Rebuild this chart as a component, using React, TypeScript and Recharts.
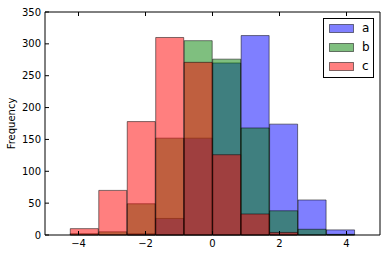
import React from 'react';
import { BarChart, Bar, XAxis, YAxis, Legend } from 'recharts';

// Histogram bins (centers of 10 equal-width bins shared by all columns)
const binCenters = [-3.82, -2.97, -2.12, -1.27, -0.42, 0.43, 1.28, 2.13, 2.98, 3.83];
const seriesA = [0, 0, 2, 26, 152, 270, 313, 174, 55, 8];
const seriesB = [2, 5, 49, 152, 305, 276, 168, 38, 9, 1];
const seriesC = [10, 70, 178, 310, 271, 126, 33, 4, 0, 0];
const seriesNames = ['a', 'b', 'c'];
const seriesColors = ['#0000ff', '#008000', '#ff0000'];
const xTicks = [-4, -2, 0, 2, 4];
const yTicks = [0, 50, 100, 150, 200, 250, 300, 350];
const yLabel = 'Frequency';

const data = binCenters.map((x, i) => ({ x, a: seriesA[i], b: seriesB[i], c: seriesC[i] }));

const FONT = 'DejaVu Sans, sans-serif';
const fmt = (v: number) => String(v).replace('-', '\u2212');

// tickSize=1, tickMargin=4 -> label y is 5px below the axis line
const BottomTick = (props: any) => {
  const { x, y, payload } = props;
  return (
    <g>
      <line x1={x} y1={y - 5} x2={x} y2={y - 9} stroke="#000" />
      <text x={x} y={y} dy="0.71em" textAnchor="middle" fontSize={10} fontFamily={FONT} fill="#000">
        {fmt(payload.value)}
      </text>
    </g>
  );
};

// tickSize=1, tickMargin=3 -> label x is 4px left of the axis line
const LeftTick = (props: any) => {
  const { x, y, payload } = props;
  return (
    <g>
      <line x1={x + 4} y1={y} x2={x + 8} y2={y} stroke="#000" />
      <text x={x} y={y} dy="0.355em" textAnchor="end" fontSize={10} fontFamily={FONT} fill="#000">
        {fmt(payload.value)}
      </text>
    </g>
  );
};

// tickSize=1, tickMargin=1 -> y is 2px above the axis line
const TopTick = (props: any) => {
  const { x, y } = props;
  return <line x1={x} y1={y + 2} x2={x} y2={y + 6} stroke="#000" />;
};

// tickSize=1, tickMargin=1 -> x is 2px right of the axis line
const RightTick = (props: any) => {
  const { x, y } = props;
  return <line x1={x - 2} y1={y} x2={x - 6} y2={y} stroke="#000" />;
};

const YLabel = (props: any) => {
  const vb = props.viewBox || { x: 0, y: 0, width: 0, height: 0 };
  const cx = vb.x + 11;
  const cy = vb.y + vb.height / 2;
  return (
    <text
      x={cx}
      y={cy}
      transform={`rotate(-90, ${cx}, ${cy})`}
      textAnchor="middle"
      dominantBaseline="central"
      fontSize={10}
      fontFamily={FONT}
      fill="#000"
    >
      {yLabel}
    </text>
  );
};

const LegendBox = () => (
  <div
    style={{
      width: 49,
      height: 58,
      border: '1px solid #000',
      background: '#fff',
      boxSizing: 'content-box',
      position: 'relative',
      fontFamily: FONT,
      fontSize: 12,
    }}
  >
    {seriesNames.map((n, i) => (
      <div key={n} style={{ position: 'absolute', left: 0, top: 6 + i * 19, height: 8, width: 49 }}>
        <svg width={26} height={10} style={{ position: 'absolute', left: 5, top: -1 }}>
          <rect x={0.5} y={0.5} width={24} height={8} fill={seriesColors[i]} fillOpacity={0.5} stroke="#000" strokeOpacity={0.5} />
        </svg>
        <span style={{ position: 'absolute', left: 38, top: -4, lineHeight: '14px', color: '#000' }}>{n}</span>
      </div>
    ))}
  </div>
);

export default function App() {
  return (
    <div style={{ position: 'absolute', left: 0, top: 0, width: 387, height: 256, background: '#fff' }}>
      <BarChart
        width={387}
        height={256}
        data={data}
        margin={{ top: 11, right: 6, bottom: 0, left: 0 }}
        barCategoryGap={0}
        barGap={0}
      >
        <XAxis
          xAxisId="bottom"
          dataKey="x"
          type="number"
          domain={[-5, 5]}
          ticks={xTicks}
          height={21}
          tickSize={1}
          tickMargin={4}
          tickLine={false}
          axisLine={{ stroke: '#000' }}
          tick={<BottomTick />}
        />
        <XAxis
          xAxisId="top"
          orientation="top"
          dataKey="x"
          type="number"
          domain={[-5, 5]}
          ticks={xTicks}
          height={1}
          tickSize={1}
          tickMargin={1}
          tickLine={false}
          tick={<TopTick />}
          axisLine={{ stroke: '#000' }}
        />
        <XAxis xAxisId="a" dataKey="x" type="number" domain={[-5, 5]} height={0} hide />
        <XAxis xAxisId="b" dataKey="x" type="number" domain={[-5, 5]} height={0} hide />
        <XAxis xAxisId="c" dataKey="x" type="number" domain={[-5, 5]} height={0} hide />
        <YAxis
          domain={[0, 350]}
          ticks={yTicks}
          width={45}
          tickSize={1}
          tickMargin={3}
          tickLine={false}
          axisLine={{ stroke: '#000' }}
          tick={<LeftTick />}
          label={<YLabel />}
        />
        <YAxis
          yAxisId="right"
          orientation="right"
          domain={[0, 350]}
          ticks={yTicks}
          width={1}
          tickSize={1}
          tickMargin={1}
          tickLine={false}
          tick={<RightTick />}
          axisLine={{ stroke: '#000' }}
        />
        <Bar xAxisId="a" dataKey="a" name="a" fill={seriesColors[0]} fillOpacity={0.5} stroke="#000" strokeOpacity={0.5} isAnimationActive={false} />
        <Bar xAxisId="b" dataKey="b" name="b" fill={seriesColors[1]} fillOpacity={0.5} stroke="#000" strokeOpacity={0.5} isAnimationActive={false} />
        <Bar xAxisId="c" dataKey="c" name="c" fill={seriesColors[2]} fillOpacity={0.5} stroke="#000" strokeOpacity={0.5} isAnimationActive={false} />
        <Legend
          layout="vertical"
          align="center"
          verticalAlign="middle"
          content={() => <LegendBox />}
          wrapperStyle={{ left: 323, top: 18, right: 'auto', bottom: 'auto', width: 51, height: 60 }}
        />
      </BarChart>
    </div>
  );
}
